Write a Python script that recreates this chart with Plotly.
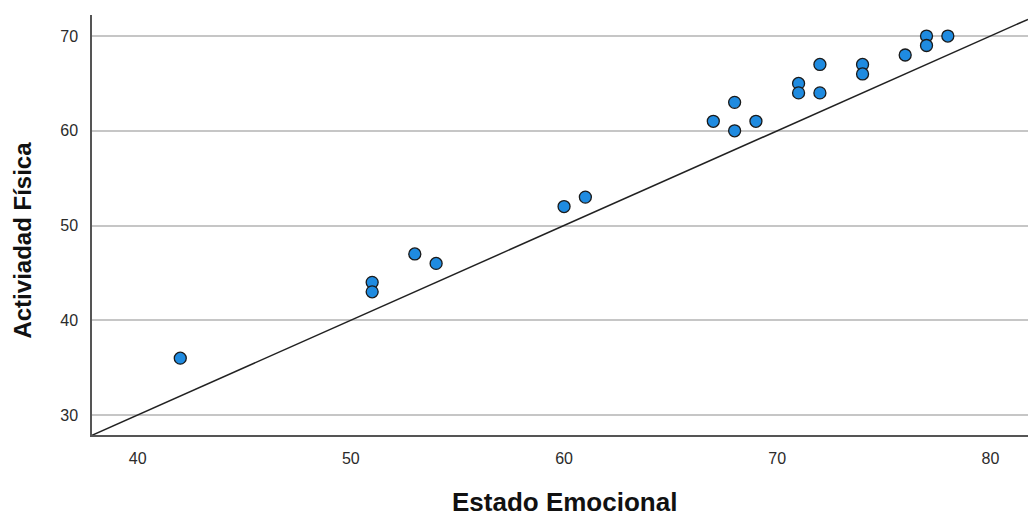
import plotly.graph_objects as go

# Observations: emotional state (x) vs physical activity (y)
estado_emocional = [42, 51, 51, 53, 54, 60, 61, 67, 68, 68, 69,
                    71, 71, 72, 72, 74, 74, 76, 77, 77, 78]
actividad_fisica = [36, 44, 43, 47, 46, 52, 53, 61, 63, 60, 61,
                    65, 64, 67, 64, 67, 66, 68, 70, 69, 70]

# Reference line endpoints (spans the full x range)
ref_line_x = [37.86, 81.76]
ref_line_y = [27.86, 71.76]

x_ticks = [40, 50, 60, 70, 80]
y_ticks = [30, 40, 50, 60, 70]

font_family = "Liberation Sans, Arial, sans-serif"

fig = go.Figure()

fig.add_trace(go.Scatter(
    x=ref_line_x, y=ref_line_y, mode="lines",
    line=dict(color="#222222", width=1.5),
    hoverinfo="skip", showlegend=False,
))

fig.add_trace(go.Scatter(
    x=estado_emocional, y=actividad_fisica, mode="markers",
    marker=dict(size=12, color="#1f8be0",
                line=dict(color="#1a1a1a", width=1.3)),
    showlegend=False,
))

fig.update_layout(
    width=1028, height=517,
    margin=dict(l=92, r=0, t=15, b=82),
    paper_bgcolor="white", plot_bgcolor="white",
    font=dict(family=font_family, color="#333333"),
    xaxis=dict(
        range=[37.86, 81.76], tickvals=x_ticks,
        showgrid=False, zeroline=False,
        showline=True, linecolor="#555555", linewidth=1.5,
        tickfont=dict(size=16, color="#2b2b2b"),
        ticklabelstandoff=8,
    ),
    yaxis=dict(
        range=[27.89, 72.22], tickvals=y_ticks,
        showgrid=True, gridcolor="#c6c6c6", gridwidth=1.5,
        zeroline=False,
        showline=True, linecolor="#555555", linewidth=1.5,
        tickfont=dict(size=16, color="#2b2b2b"),
        ticklabelstandoff=9,
    ),
    annotations=[
        dict(text="<b>Estado Emocional</b>", xref="paper", yref="paper",
             x=0.505, y=-0.16, xanchor="center", yanchor="middle",
             showarrow=False, font=dict(size=26, color="#111111")),
        dict(text="<b>Activiadad Física</b>", xref="paper", yref="paper",
             x=-0.0737, y=0.463, xanchor="center", yanchor="middle",
             textangle=-90, showarrow=False,
             font=dict(size=24, color="#111111")),
    ],
)

fig.write_html("out.html")
